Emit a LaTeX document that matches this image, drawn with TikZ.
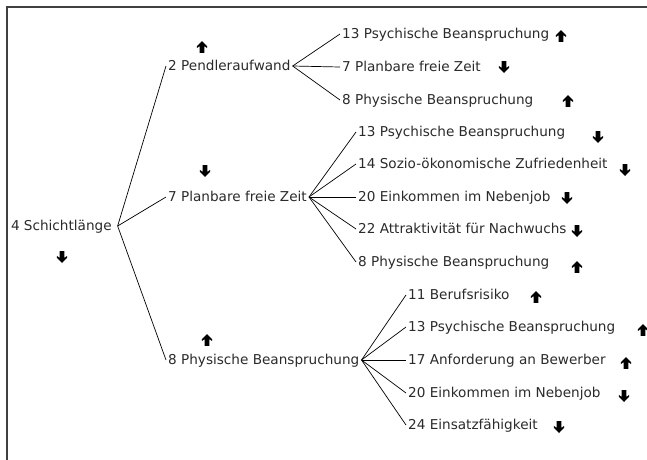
\documentclass[tikz,border=0pt]{standalone}
\usepackage{fontspec}
\setmainfont{DejaVu Sans}
\definecolor{txt}{HTML}{2A2A2A}
\definecolor{frm}{HTML}{404040}
\begin{document}
\begin{tikzpicture}[x=1pt,y=-1pt,
  lbl/.style={anchor=west,inner xsep=2pt,inner ysep=0pt,text height=9pt,text depth=0pt,
    font=\fontsize{13.6}{15}\selectfont,text=txt},
  conn/.style={draw=black,line width=0.7pt},
  uparr/.pic={\fill[black] (0,-6) -- (5.2,-0.6) -- (5.2,1.2) -- (2.3,-1) -- (2.3,5.8) -- (-2.3,5.8) -- (-2.3,-1) -- (-5.2,1.2) -- (-5.2,-0.6) -- cycle;},
  dnarr/.pic={\fill[black] (0,6) -- (5.2,0.6) -- (5.2,-1.2) -- (2.3,1) -- (2.3,-5.8) -- (-2.3,-5.8) -- (-2.3,1) -- (-5.2,-1.2) -- (-5.2,0.6) -- cycle;}]
\useasboundingbox (0,0) rectangle (647,459);
\draw[frm,line width=1.6pt] (7,462) -- (7,7) -- (650,7);
% nodes
\node[lbl,outer xsep=4pt] (r) at (5,226) {4 Schichtlänge};
\node[lbl] (a) at (166,66) {2 Pendleraufwand};
\node[lbl] (b) at (166,197) {7 Planbare freie Zeit};
\node[lbl] (c) at (166,360) {8 Physische Beanspruchung};
\node[lbl] (a1) at (340,34) {13 Psychische Beanspruchung};
\node[lbl] (a2) at (340,67) {7 Planbare freie Zeit};
\node[lbl] (a3) at (340,100) {8 Physische Beanspruchung};
\node[lbl] (b1) at (356,132) {13 Psychische Beanspruchung};
\node[lbl] (b2) at (356,164) {14 Sozio-ökonomische Zufriedenheit};
\node[lbl] (b3) at (356,197) {20 Einkommen im Nebenjob};
\node[lbl] (b4) at (356,229) {22 Attraktivität für Nachwuchs};
\node[lbl] (b5) at (356,262) {8 Physische Beanspruchung};
\node[lbl] (c1) at (406,295) {11 Berufsrisiko};
\node[lbl] (c2) at (406,327) {13 Psychische Beanspruchung};
\node[lbl] (c3) at (406,360) {17 Anforderung an Bewerber};
\node[lbl] (c4) at (406,393) {20 Einkommen im Nebenjob};
\node[lbl] (c5) at (406,425) {24 Einsatzfähigkeit};
% connectors
\foreach \t in {a,b,c} \draw[conn] (r.east) -- (\t.west);
\foreach \t in {a1,a2,a3} \draw[conn] (a.east) -- (\t.west);
\foreach \t in {b1,b2,b3,b4,b5} \draw[conn] (b.east) -- (\t.west);
\foreach \t in {c1,c2,c3,c4,c5} \draw[conn] (c.east) -- (\t.west);
% arrows
\pic at (62,257) {dnarr};
\pic at (202,47) {uparr};
\pic at (205,171) {dnarr};
\pic at (207,340) {uparr};
\pic at (561,36) {uparr};
\pic at (504,67) {dnarr};
\pic at (568,101) {uparr};
\pic at (598,137) {dnarr};
\pic at (625,170) {dnarr};
\pic at (567,198) {dnarr};
\pic at (577,231) {dnarr};
\pic at (577,267) {uparr};
\pic at (536,297) {uparr};
\pic at (643,330) {uparr};
\pic at (626,363) {uparr};
\pic at (624,396) {dnarr};
\pic at (559,427) {dnarr};
\end{tikzpicture}
\end{document}
